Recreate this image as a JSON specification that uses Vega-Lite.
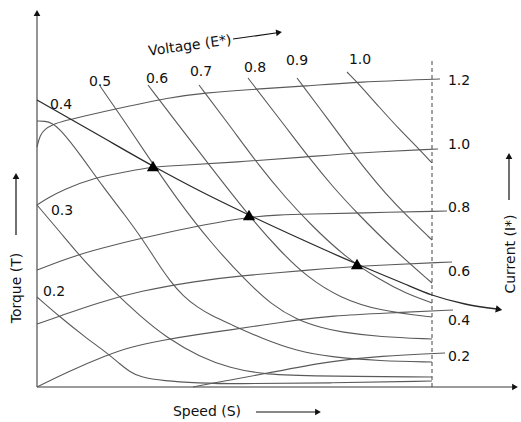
{
  "$schema": "https://vega.github.io/schema/vega-lite/v6.json",
  "width": 521,
  "height": 422,
  "autosize": {"type": "fit", "contains": "padding"},
  "padding": 0,
  "background": "white",
  "config": {"view": {"stroke": null}},
  "datasets": {
    "curves": [
      {"g": "I1.2", "k": "I", "o": 1, "s": 0, "t": 240},
      {"g": "I1.2", "k": "I", "o": 2, "s": 3, "t": 252},
      {"g": "I1.2", "k": "I", "o": 3, "s": 8, "t": 258},
      {"g": "I1.2", "k": "I", "o": 4, "s": 15, "t": 262},
      {"g": "I1.2", "k": "I", "o": 5, "s": 26, "t": 266},
      {"g": "I1.2", "k": "I", "o": 6, "s": 60, "t": 274},
      {"g": "I1.2", "k": "I", "o": 7, "s": 93, "t": 281},
      {"g": "I1.2", "k": "I", "o": 8, "s": 130, "t": 289},
      {"g": "I1.2", "k": "I", "o": 9, "s": 166, "t": 294},
      {"g": "I1.2", "k": "I", "o": 10, "s": 220, "t": 298},
      {"g": "I1.2", "k": "I", "o": 11, "s": 270, "t": 301},
      {"g": "I1.2", "k": "I", "o": 12, "s": 320, "t": 305},
      {"g": "I1.2", "k": "I", "o": 13, "s": 403, "t": 308},

      {"g": "I1.0", "k": "I", "o": 1, "s": 0, "t": 182},
      {"g": "I1.0", "k": "I", "o": 2, "s": 11, "t": 189},
      {"g": "I1.0", "k": "I", "o": 3, "s": 26, "t": 197},
      {"g": "I1.0", "k": "I", "o": 4, "s": 56, "t": 209},
      {"g": "I1.0", "k": "I", "o": 5, "s": 93, "t": 216},
      {"g": "I1.0", "k": "I", "o": 6, "s": 116, "t": 220},
      {"g": "I1.0", "k": "I", "o": 7, "s": 133, "t": 221},
      {"g": "I1.0", "k": "I", "o": 8, "s": 200, "t": 225},
      {"g": "I1.0", "k": "I", "o": 9, "s": 270, "t": 230},
      {"g": "I1.0", "k": "I", "o": 10, "s": 316, "t": 234},
      {"g": "I1.0", "k": "I", "o": 11, "s": 401, "t": 238},

      {"g": "I0.8", "k": "I", "o": 1, "s": 0, "t": 117},
      {"g": "I0.8", "k": "I", "o": 2, "s": 13, "t": 122},
      {"g": "I0.8", "k": "I", "o": 3, "s": 43, "t": 133},
      {"g": "I0.8", "k": "I", "o": 4, "s": 73, "t": 141},
      {"g": "I0.8", "k": "I", "o": 5, "s": 106, "t": 149},
      {"g": "I0.8", "k": "I", "o": 6, "s": 133, "t": 155},
      {"g": "I0.8", "k": "I", "o": 7, "s": 166, "t": 162},
      {"g": "I0.8", "k": "I", "o": 8, "s": 212, "t": 170},
      {"g": "I0.8", "k": "I", "o": 9, "s": 240, "t": 172},
      {"g": "I0.8", "k": "I", "o": 10, "s": 273, "t": 173},
      {"g": "I0.8", "k": "I", "o": 11, "s": 320, "t": 174},
      {"g": "I0.8", "k": "I", "o": 12, "s": 410, "t": 176},

      {"g": "I0.6", "k": "I", "o": 1, "s": 0, "t": 63},
      {"g": "I0.6", "k": "I", "o": 2, "s": 23, "t": 71},
      {"g": "I0.6", "k": "I", "o": 3, "s": 60, "t": 84},
      {"g": "I0.6", "k": "I", "o": 4, "s": 103, "t": 96},
      {"g": "I0.6", "k": "I", "o": 5, "s": 160, "t": 106},
      {"g": "I0.6", "k": "I", "o": 6, "s": 200, "t": 111},
      {"g": "I0.6", "k": "I", "o": 7, "s": 273, "t": 117},
      {"g": "I0.6", "k": "I", "o": 8, "s": 320, "t": 121},
      {"g": "I0.6", "k": "I", "o": 9, "s": 415, "t": 125},

      {"g": "I0.4", "k": "I", "o": 1, "s": 0, "t": 0},
      {"g": "I0.4", "k": "I", "o": 2, "s": 30, "t": 15},
      {"g": "I0.4", "k": "I", "o": 3, "s": 70, "t": 32},
      {"g": "I0.4", "k": "I", "o": 4, "s": 93, "t": 40},
      {"g": "I0.4", "k": "I", "o": 5, "s": 126, "t": 47},
      {"g": "I0.4", "k": "I", "o": 6, "s": 163, "t": 53},
      {"g": "I0.4", "k": "I", "o": 7, "s": 193, "t": 57},
      {"g": "I0.4", "k": "I", "o": 8, "s": 226, "t": 62},
      {"g": "I0.4", "k": "I", "o": 9, "s": 260, "t": 67},
      {"g": "I0.4", "k": "I", "o": 10, "s": 293, "t": 71},
      {"g": "I0.4", "k": "I", "o": 11, "s": 350, "t": 74},
      {"g": "I0.4", "k": "I", "o": 12, "s": 416, "t": 77},

      {"g": "I0.2", "k": "I", "o": 1, "s": 156, "t": 0},
      {"g": "I0.2", "k": "I", "o": 2, "s": 193, "t": 7},
      {"g": "I0.2", "k": "I", "o": 3, "s": 226, "t": 13},
      {"g": "I0.2", "k": "I", "o": 4, "s": 293, "t": 26},
      {"g": "I0.2", "k": "I", "o": 5, "s": 343, "t": 31},
      {"g": "I0.2", "k": "I", "o": 6, "s": 408, "t": 34},

      {"g": "V1.0", "k": "V", "o": 1, "s": 310, "t": 315},
      {"g": "V1.0", "k": "V", "o": 2, "s": 321, "t": 304},
      {"g": "V1.0", "k": "V", "o": 3, "s": 343, "t": 279},
      {"g": "V1.0", "k": "V", "o": 4, "s": 363, "t": 257},
      {"g": "V1.0", "k": "V", "o": 5, "s": 383, "t": 237},
      {"g": "V1.0", "k": "V", "o": 6, "s": 395, "t": 224},

      {"g": "V0.9", "k": "V", "o": 1, "s": 260, "t": 309},
      {"g": "V0.9", "k": "V", "o": 2, "s": 293, "t": 265},
      {"g": "V0.9", "k": "V", "o": 3, "s": 313, "t": 238},
      {"g": "V0.9", "k": "V", "o": 4, "s": 328, "t": 218},
      {"g": "V0.9", "k": "V", "o": 5, "s": 348, "t": 194},
      {"g": "V0.9", "k": "V", "o": 6, "s": 370, "t": 171},
      {"g": "V0.9", "k": "V", "o": 7, "s": 395, "t": 147},

      {"g": "V0.8", "k": "V", "o": 1, "s": 211, "t": 309},
      {"g": "V0.8", "k": "V", "o": 2, "s": 248, "t": 261},
      {"g": "V0.8", "k": "V", "o": 3, "s": 273, "t": 228},
      {"g": "V0.8", "k": "V", "o": 4, "s": 296, "t": 200},
      {"g": "V0.8", "k": "V", "o": 5, "s": 319, "t": 175},
      {"g": "V0.8", "k": "V", "o": 6, "s": 356, "t": 138},
      {"g": "V0.8", "k": "V", "o": 7, "s": 395, "t": 104},

      {"g": "V0.7", "k": "V", "o": 1, "s": 162, "t": 302},
      {"g": "V0.7", "k": "V", "o": 2, "s": 193, "t": 261},
      {"g": "V0.7", "k": "V", "o": 3, "s": 223, "t": 220},
      {"g": "V0.7", "k": "V", "o": 4, "s": 248, "t": 190},
      {"g": "V0.7", "k": "V", "o": 5, "s": 273, "t": 163},
      {"g": "V0.7", "k": "V", "o": 6, "s": 308, "t": 130},
      {"g": "V0.7", "k": "V", "o": 7, "s": 343, "t": 107},
      {"g": "V0.7", "k": "V", "o": 8, "s": 368, "t": 94},
      {"g": "V0.7", "k": "V", "o": 9, "s": 395, "t": 84},

      {"g": "V0.6", "k": "V", "o": 1, "s": 111, "t": 302},
      {"g": "V0.6", "k": "V", "o": 2, "s": 140, "t": 264},
      {"g": "V0.6", "k": "V", "o": 3, "s": 173, "t": 221},
      {"g": "V0.6", "k": "V", "o": 4, "s": 212, "t": 171},
      {"g": "V0.6", "k": "V", "o": 5, "s": 243, "t": 136},
      {"g": "V0.6", "k": "V", "o": 6, "s": 270, "t": 110},
      {"g": "V0.6", "k": "V", "o": 7, "s": 303, "t": 89},
      {"g": "V0.6", "k": "V", "o": 8, "s": 343, "t": 76},
      {"g": "V0.6", "k": "V", "o": 9, "s": 395, "t": 70},

      {"g": "V0.5", "k": "V", "o": 1, "s": 63, "t": 301},
      {"g": "V0.5", "k": "V", "o": 2, "s": 90, "t": 262},
      {"g": "V0.5", "k": "V", "o": 3, "s": 116, "t": 223},
      {"g": "V0.5", "k": "V", "o": 4, "s": 140, "t": 188},
      {"g": "V0.5", "k": "V", "o": 5, "s": 173, "t": 145},
      {"g": "V0.5", "k": "V", "o": 6, "s": 210, "t": 105},
      {"g": "V0.5", "k": "V", "o": 7, "s": 235, "t": 82},
      {"g": "V0.5", "k": "V", "o": 8, "s": 260, "t": 67},
      {"g": "V0.5", "k": "V", "o": 9, "s": 285, "t": 59},
      {"g": "V0.5", "k": "V", "o": 10, "s": 303, "t": 55},
      {"g": "V0.5", "k": "V", "o": 11, "s": 343, "t": 50},
      {"g": "V0.5", "k": "V", "o": 12, "s": 395, "t": 48},

      {"g": "V0.4", "k": "V", "o": 1, "s": 0, "t": 266},
      {"g": "V0.4", "k": "V", "o": 2, "s": 8, "t": 266},
      {"g": "V0.4", "k": "V", "o": 3, "s": 15, "t": 264},
      {"g": "V0.4", "k": "V", "o": 4, "s": 23, "t": 258},
      {"g": "V0.4", "k": "V", "o": 5, "s": 43, "t": 233},
      {"g": "V0.4", "k": "V", "o": 6, "s": 66, "t": 200},
      {"g": "V0.4", "k": "V", "o": 7, "s": 88, "t": 172},
      {"g": "V0.4", "k": "V", "o": 8, "s": 106, "t": 147},
      {"g": "V0.4", "k": "V", "o": 9, "s": 120, "t": 125},
      {"g": "V0.4", "k": "V", "o": 10, "s": 133, "t": 106},
      {"g": "V0.4", "k": "V", "o": 11, "s": 146, "t": 91},
      {"g": "V0.4", "k": "V", "o": 12, "s": 160, "t": 80},
      {"g": "V0.4", "k": "V", "o": 13, "s": 175, "t": 71},
      {"g": "V0.4", "k": "V", "o": 14, "s": 193, "t": 63},
      {"g": "V0.4", "k": "V", "o": 15, "s": 226, "t": 48},
      {"g": "V0.4", "k": "V", "o": 16, "s": 260, "t": 36},
      {"g": "V0.4", "k": "V", "o": 17, "s": 293, "t": 30},
      {"g": "V0.4", "k": "V", "o": 18, "s": 343, "t": 26},
      {"g": "V0.4", "k": "V", "o": 19, "s": 395, "t": 25},

      {"g": "V0.3", "k": "V", "o": 1, "s": 0, "t": 182},
      {"g": "V0.3", "k": "V", "o": 2, "s": 23, "t": 155},
      {"g": "V0.3", "k": "V", "o": 3, "s": 48, "t": 125},
      {"g": "V0.3", "k": "V", "o": 4, "s": 75, "t": 97},
      {"g": "V0.3", "k": "V", "o": 5, "s": 103, "t": 71},
      {"g": "V0.3", "k": "V", "o": 6, "s": 130, "t": 49},
      {"g": "V0.3", "k": "V", "o": 7, "s": 163, "t": 30},
      {"g": "V0.3", "k": "V", "o": 8, "s": 193, "t": 19},
      {"g": "V0.3", "k": "V", "o": 9, "s": 226, "t": 13},
      {"g": "V0.3", "k": "V", "o": 10, "s": 263, "t": 11},
      {"g": "V0.3", "k": "V", "o": 11, "s": 395, "t": 10},

      {"g": "V0.2", "k": "V", "o": 1, "s": 0, "t": 90},
      {"g": "V0.2", "k": "V", "o": 2, "s": 23, "t": 70},
      {"g": "V0.2", "k": "V", "o": 3, "s": 48, "t": 50},
      {"g": "V0.2", "k": "V", "o": 4, "s": 70, "t": 34},
      {"g": "V0.2", "k": "V", "o": 5, "s": 83, "t": 23},
      {"g": "V0.2", "k": "V", "o": 6, "s": 93, "t": 15},
      {"g": "V0.2", "k": "V", "o": 7, "s": 103, "t": 10},
      {"g": "V0.2", "k": "V", "o": 8, "s": 126, "t": 6},
      {"g": "V0.2", "k": "V", "o": 9, "s": 163, "t": 4},
      {"g": "V0.2", "k": "V", "o": 10, "s": 193, "t": 3},
      {"g": "V0.2", "k": "V", "o": 11, "s": 293, "t": 4},
      {"g": "V0.2", "k": "V", "o": 12, "s": 395, "t": 6},

      {"g": "load", "k": "L", "o": 1, "s": 0, "t": 287},
      {"g": "load", "k": "L", "o": 2, "s": 58, "t": 254},
      {"g": "load", "k": "L", "o": 3, "s": 116, "t": 221},
      {"g": "load", "k": "L", "o": 4, "s": 163, "t": 196},
      {"g": "load", "k": "L", "o": 5, "s": 212, "t": 172},
      {"g": "load", "k": "L", "o": 6, "s": 266, "t": 147},
      {"g": "load", "k": "L", "o": 7, "s": 320, "t": 123},
      {"g": "load", "k": "L", "o": 8, "s": 363, "t": 105},
      {"g": "load", "k": "L", "o": 9, "s": 395, "t": 92},
      {"g": "load", "k": "L", "o": 10, "s": 428, "t": 83},
      {"g": "load", "k": "L", "o": 11, "s": 460, "t": 78}
    ],
    "axes": [
      {"s": 0, "t": 0, "s2": 0, "t2": 372},
      {"s": 0, "t": 0, "s2": 476, "t2": 0}
    ],
    "pointers": [
      {"s": 196, "t": 348, "s2": 242, "t2": 354.5},
      {"s": 219, "t": -25, "s2": 280, "t2": -25},
      {"s": -21, "t": 152, "s2": -21, "t2": 210},
      {"s": 472, "t": 187, "s2": 472, "t2": 230}
    ],
    "upHeads": [
      {"s": 0, "t": 374},
      {"s": -21, "t": 211},
      {"s": 472, "t": 231}
    ],
    "rightHeads": [
      {"s": 478, "t": 0},
      {"s": 281, "t": -25}
    ],
    "marks": [
      {"s": 116, "t": 221},
      {"s": 212, "t": 172},
      {"s": 320, "t": 123}
    ],
    "labels": [
      {"s": 24, "t": 282, "txt": "0.4"},
      {"s": 63, "t": 305, "txt": "0.5"},
      {"s": 120, "t": 308, "txt": "0.6"},
      {"s": 164, "t": 315, "txt": "0.7"},
      {"s": 218, "t": 319, "txt": "0.8"},
      {"s": 260, "t": 326, "txt": "0.9"},
      {"s": 323, "t": 327, "txt": "1.0"},
      {"s": 25, "t": 176, "txt": "0.3"},
      {"s": 17, "t": 95, "txt": "0.2"},
      {"s": 422, "t": 306, "txt": "1.2"},
      {"s": 422, "t": 242, "txt": "1.0"},
      {"s": 422, "t": 179, "txt": "0.8"},
      {"s": 422, "t": 115, "txt": "0.6"},
      {"s": 422, "t": 66, "txt": "0.4"},
      {"s": 422, "t": 30, "txt": "0.2"}
    ]
  },
  "encoding": {
    "x": {"field": "s", "type": "quantitative", "scale": {"domain": [-37, 484], "nice": false, "zero": false}, "axis": null},
    "y": {"field": "t", "type": "quantitative", "scale": {"domain": [-35, 387], "nice": false, "zero": false}, "axis": null}
  },
  "layer": [
    {
      "data": {"name": "axes"},
      "mark": {"type": "rule", "color": "#7a7a7a", "strokeWidth": 1.6},
      "encoding": {"x2": {"field": "s2"}, "y2": {"field": "t2"}}
    },
    {
      "data": {"values": [{"s": 395, "t": 0, "t2": 329}]},
      "mark": {"type": "rule", "color": "#444444", "strokeWidth": 1, "strokeDash": [4, 3]},
      "encoding": {"y2": {"field": "t2"}}
    },
    {
      "data": {"name": "curves"},
      "transform": [{"filter": "datum.k != 'L'"}],
      "mark": {"type": "line", "interpolate": "basis", "color": "#5a5a5a", "strokeWidth": 1.1},
      "encoding": {"detail": {"field": "g"}, "order": {"field": "o", "type": "quantitative"}}
    },
    {
      "data": {"name": "curves"},
      "transform": [{"filter": "datum.k == 'L'"}],
      "mark": {"type": "line", "interpolate": "monotone", "color": "#2a2a2a", "strokeWidth": 1.3},
      "encoding": {"order": {"field": "o", "type": "quantitative"}}
    },
    {
      "data": {"name": "pointers"},
      "mark": {"type": "rule", "color": "#111111", "strokeWidth": 1.2},
      "encoding": {"x2": {"field": "s2"}, "y2": {"field": "t2"}}
    },
    {
      "data": {"name": "upHeads"},
      "mark": {"type": "point", "shape": "triangle-up", "filled": true, "color": "#111111", "size": 45, "opacity": 1}
    },
    {
      "data": {"name": "rightHeads"},
      "mark": {"type": "point", "shape": "triangle-right", "filled": true, "color": "#111111", "size": 45, "opacity": 1}
    },
    {
      "data": {"values": [{"s": 242, "t": 354.5}]},
      "mark": {"type": "point", "shape": "triangle-right", "filled": true, "color": "#111111", "size": 45, "opacity": 1, "angle": -8}
    },
    {
      "data": {"values": [{"s": 462, "t": 77.5}]},
      "mark": {"type": "point", "shape": "triangle-right", "filled": true, "color": "#111111", "size": 55, "opacity": 1, "angle": 11}
    },
    {
      "data": {"name": "marks"},
      "mark": {"type": "point", "shape": "triangle-up", "filled": true, "color": "#000000", "size": 150, "opacity": 1}
    },
    {
      "data": {"name": "labels"},
      "mark": {"type": "text", "font": "DejaVu Sans", "fontSize": 14, "color": "#111111", "align": "center", "baseline": "middle"},
      "encoding": {"text": {"field": "txt"}}
    },
    {
      "data": {"values": [{"s": 153, "t": 341, "txt": "Voltage (E*)"}]},
      "mark": {"type": "text", "font": "DejaVu Sans", "fontSize": 14, "color": "#111111", "align": "center", "baseline": "middle", "angle": 352},
      "encoding": {"text": {"field": "txt"}}
    },
    {
      "data": {"values": [{"s": 170, "t": -25, "txt": "Speed (S)"}]},
      "mark": {"type": "text", "font": "DejaVu Sans", "fontSize": 14, "color": "#111111", "align": "center", "baseline": "middle"},
      "encoding": {"text": {"field": "txt"}}
    },
    {
      "data": {"values": [{"s": -20, "t": 99, "txt": "Torque (T)"}, {"s": 474, "t": 133, "txt": "Current (I*)"}]},
      "mark": {"type": "text", "font": "DejaVu Sans", "fontSize": 14, "color": "#111111", "align": "center", "baseline": "middle", "angle": 270},
      "encoding": {"text": {"field": "txt"}}
    }
  ]
}
